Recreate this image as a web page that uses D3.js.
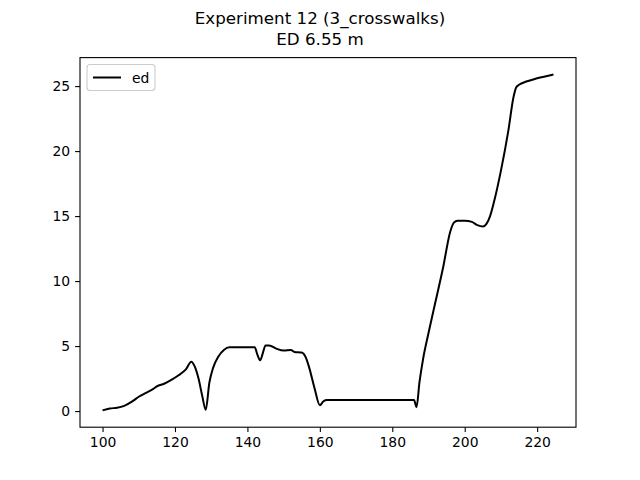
<!DOCTYPE html><html><head><script src="https://cdn.jsdelivr.net/npm/d3@7"></script>
<style>body{margin:0}text{font-family:"DejaVu Sans",sans-serif}</style></head><body><script>
const xs=[100,102,104,106,108,110,112,114,115,117,119,121,123,124.5,125.5,126.5,127.5,128.5,129.5,130.5,132,133.5,135,137,140,142,142.8,143.5,144.3,145,146,148,150,152,153,155,156,157,158.5,160,161,162,170,180,186,186.7,187.5,188.5,190,192,194,196,197,198,200,202,203.5,205,206,207,208,210,212,213.5,214.2,215,217,220,224.5];
const ys=[0.05,0.2,0.25,0.4,0.7,1.1,1.4,1.7,1.9,2.1,2.4,2.75,3.2,3.8,3.4,2.5,1.2,0.1,2.2,3.3,4.2,4.7,4.9,4.9,4.9,4.9,4.3,3.9,4.5,5.05,5.05,4.8,4.65,4.7,4.55,4.5,4.2,3.4,1.8,0.45,0.75,0.85,0.85,0.85,0.85,0.3,2.2,4,6,8.5,11,13.8,14.5,14.65,14.65,14.55,14.3,14.2,14.4,15,16,18.5,21.5,24.2,24.9,25.1,25.35,25.6,25.9];
const xTicks=[100,120,140,160,180,200,220], yTicks=[0,5,10,15,20,25];
const svg=d3.select("body").append("svg").attr("width",640).attr("height",480);
const L=80,R=576,T=57.6,B=427.2;
const x=d3.scaleLinear().domain([93.775,230.725]).range([L,R]);
const y=d3.scaleLinear().domain([-1.2425,27.1925]).range([B,T]);
svg.append("path").datum(xs.map((d,i)=>[d,ys[i]])).attr("fill","none").attr("stroke","#000").attr("stroke-width",2)
 .attr("d",d3.line().x(d=>x(d[0])).y(d=>y(d[1])).curve(d3.curveMonotoneX));
const gx=svg.append("g").attr("transform",`translate(0,${B})`).call(d3.axisBottom(x).tickValues(xTicks).tickSize(4.9).tickPadding(4.9));
const gy=svg.append("g").attr("transform",`translate(${L},0)`).call(d3.axisLeft(y).tickValues(yTicks).tickSize(4.9).tickPadding(4.9));
[gx,gy].forEach(g=>{g.select(".domain").remove();g.selectAll("text").attr("font-size",13.9).attr("fill","#000").style("font-family","DejaVu Sans");g.selectAll("line").attr("stroke","#000").attr("stroke-width",1.1);});
svg.append("rect").attr("x",L).attr("y",T).attr("width",R-L).attr("height",B-T).attr("fill","none").attr("stroke","#000").attr("stroke-width",1.1);
svg.append("text").attr("x",320).attr("y",24).attr("text-anchor","middle").attr("font-size",16.7).text("Experiment 12 (3_crosswalks)");
svg.append("text").attr("x",320).attr("y",45).attr("text-anchor","middle").attr("font-size",16.7).text("ED 6.55 m");
svg.append("rect").attr("x",87).attr("y",64.5).attr("width",68).attr("height",26).attr("rx",3).attr("fill","#fff").attr("stroke","#ccc").attr("stroke-width",1.1);
svg.append("line").attr("x1",93).attr("x2",121).attr("y1",77.5).attr("y2",77.5).attr("stroke","#000").attr("stroke-width",2);
svg.append("text").attr("x",132).attr("y",82.5).attr("font-size",13.9).text("ed");
</script></body></html>
